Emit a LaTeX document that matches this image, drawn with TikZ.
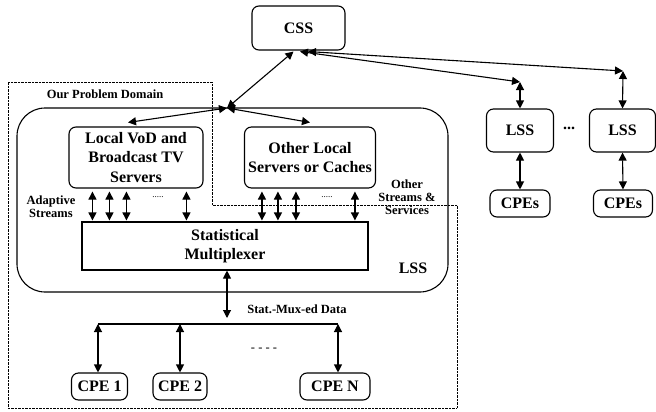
\documentclass[tikz,border=0pt]{standalone}
\usepackage{fontspec}
\setmainfont{Liberation Serif}
\usetikzlibrary{arrows.meta}
\begin{document}
\begin{tikzpicture}[x=1pt,y=-1pt,
  box/.style={draw,line width=1.1pt,rounded corners=7pt,align=center,inner sep=0pt,
    font=\fontsize{16}{19.5}\selectfont\bfseries},
  lbl/.style={align=center,inner sep=0pt,font=\fontsize{12.5}{13}\selectfont\bfseries},
  dbl/.style={line width=1.1pt,{Triangle[length=8pt,width=8pt]}-{Triangle[length=8pt,width=8pt]}},
  dom/.style={line width=0.8pt,dash pattern=on 0.7pt off 0.7pt}]
\useasboundingbox (0,0) rectangle (656,412);
% problem domain
\draw[dom] (8,82) -- (212,82) -- (212,205) -- (457,205) -- (457,408) -- (8,408) -- cycle;
% big LSS box
\node[draw,line width=1.1pt,rounded corners=28pt,minimum width=431pt,minimum height=184pt,inner sep=0pt] (lssbig) at (232.5,200) {};
% nodes
\node[box,minimum width=93pt,minimum height=44pt] (css) at (298.5,28) {CSS};
\node[box,minimum width=134pt,minimum height=61pt] (lvod) at (136,157.5) {Local VoD and\\Broadcast TV\\Servers};
\node[box,minimum width=131pt,minimum height=61pt] (oloc) at (310,157.5) {Other Local\\Servers or Caches};
\node[box,rounded corners=0pt,minimum width=286pt,minimum height=48pt] (smux) at (225,246) {Statistical\\Multiplexer};
\node[box,minimum width=56pt,minimum height=27pt] (cpe1) at (99.5,386.5) {CPE 1};
\node[box,minimum width=54pt,minimum height=27pt] (cpe2) at (180,386.5) {CPE 2};
\node[box,minimum width=70pt,minimum height=27pt] (cpen) at (335,386.5) {CPE N};
\node[box,minimum width=67pt,minimum height=43pt] (lss1) at (520,130.5) {LSS};
\node[box,minimum width=66pt,minimum height=43pt] (lss2) at (622.5,130.5) {LSS};
\node[box,minimum width=60pt,minimum height=27pt] (cpes1) at (520,203.5) {CPEs};
\node[box,minimum width=59pt,minimum height=27pt] (cpes2) at (623,203.5) {CPEs};
% labels
\node[lbl] (tdom) at (105,94) {Our Problem Domain};
\node[lbl] (tada) at (51,207) {Adaptive\\Streams};
\node[lbl] (toth) at (407,197) {Other\\Streams \&\\Services};
\node[lbl,font=\fontsize{16}{19}\selectfont\bfseries] (tlss) at (413,268) {LSS};
\node[lbl] (tsmd) at (297,309) {Stat.-Mux-ed Data};
\node[lbl,font=\fontsize{12.5}{13}\selectfont] (tdash) at (264,350) {- - - -};
\node[lbl,font=\fontsize{9}{10}\selectfont] (tdl) at (158,197) {.....};
\node[lbl,font=\fontsize{9}{10}\selectfont] (tdr) at (327,197) {.....};
\node[lbl,font=\fontsize{16}{19}\selectfont\bfseries] (tdots) at (569,128) {...};
% coordinates
\coordinate (junc) at (227,108);
\coordinate (j1) at (520,82);
\coordinate (j2) at (623,71);
\coordinate (msx) at (227,318);
\coordinate (busL) at (98,324);
\coordinate (busM) at (180,324);
\coordinate (busR) at (338,324);
% top connectors
\draw[dbl] (junc) -- ([xshift=-5pt,yshift=-1pt]css.south);
\draw[dbl] (junc) -- ([xshift=-8pt,yshift=4pt]lvod.north);
\draw[dbl] (junc) -- ([yshift=4pt]oloc.north);
\draw[dbl] ([xshift=1.5pt,yshift=-1pt]css.south) -- (j1);
\draw[dbl] ([xshift=9.5pt,yshift=-1pt]css.south) -- (j2);
\draw[dbl] (j1) -- (lss1.north);
\draw[dbl] (j2) -- (lss2.north);
\draw[dbl] (lss1.south) -- (cpes1.north);
\draw[dbl] (lss2.south) -- (cpes2.north);
% stream arrows
\foreach \dx in {24,41,58,118}
  \draw[dbl,shorten <=3pt,shorten >=1pt] ([xshift=\dx pt]lvod.south west) coordinate (s) -- (s |- smux.north);
\foreach \dx in {18,34,52,111}
  \draw[dbl,shorten <=3pt,shorten >=1pt] ([xshift=\dx pt]oloc.south west) coordinate (s) -- (s |- smux.north);
% multiplexer to CPEs
\draw[dbl] (smux.south -| msx) -- (msx);
\draw[line width=1.1pt] (busL) -- (busR);
\draw[dbl] (busL) -- (busL |- cpe1.north);
\draw[dbl] (busM) -- (busM |- cpe2.north);
\draw[dbl] (busR) -- (busR |- cpen.north);
\end{tikzpicture}
\end{document}
